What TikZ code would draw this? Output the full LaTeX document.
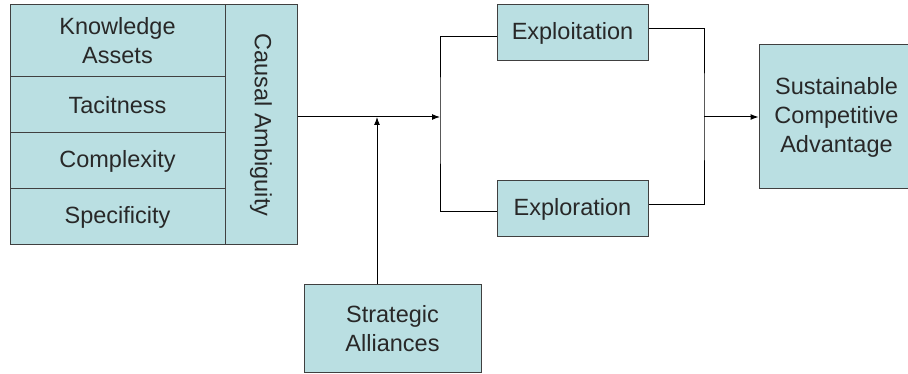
\documentclass[tikz,border=0pt]{standalone}
\usepackage{fontspec}
\setmainfont{Liberation Sans}
\usepackage{tikz}
\usetikzlibrary{arrows.meta}

\definecolor{boxfill}{RGB}{186,223,226}
\definecolor{boxline}{RGB}{64,64,64}
\definecolor{boxtext}{RGB}{40,40,40}

\tikzset{
    >={Latex[length=8pt,width=6pt]},
    box/.style={draw=boxline,fill=boxfill,text=boxtext,line width=1pt,
        align=center,inner sep=0pt,font=\fontsize{23.5}{29}\selectfont},
    link/.style={draw=black,line width=1pt}
}

\begin{document}
\begin{tikzpicture}[x=1pt,y=-1pt]
                    \useasboundingbox (0,0) rectangle (908,374);
                    \node[box,minimum width=215,minimum height=72] (assets) at (117.5,41) {Knowledge\\Assets};
                    \node[box,minimum width=215,minimum height=56] (tacit) at (117.5,105) {Tacitness};
                    \node[box,minimum width=215,minimum height=56] (complex) at (117.5,161) {Complexity};
                    \node[box,minimum width=215,minimum height=56] (specific) at (117.5,217) {Specificity};
                    \node[box,rotate=-90,minimum width=240,minimum height=72] (causal) at (261,125) {Causal Ambiguity};
                    \node[box,minimum width=151,minimum height=56] (exploit) at (572.5,33) {Exploitation};
                    \node[box,minimum width=151,minimum height=56] (explore) at (572.5,209) {Exploration};
                    \node[box,minimum width=155,minimum height=144] (advantage) at (836.5,117) {Sustainable\\Competitive\\Advantage};
                    \node[box,minimum width=177,minimum height=87] (alliance) at (392.5,328.5) {Strategic\\Alliances};
                    \coordinate (split) at (440,117);
                    \coordinate (meet) at (377,117);
                    \coordinate (join) at (704,117);
                    \draw[link,->] (causal.north |- split) -- (split);
                    \draw[link,->] (alliance.north -| meet) -- (meet);
                    \draw[link] ([yshift=-4pt]exploit.west) -| (split) |- ([yshift=-3pt]explore.west);
                    \draw[link] ([yshift=4pt]exploit.east) -| (join) |- ([yshift=4pt]explore.east);
                    \draw[link,->] (join) -- (advantage.west);
                \end{tikzpicture}
\end{document}
